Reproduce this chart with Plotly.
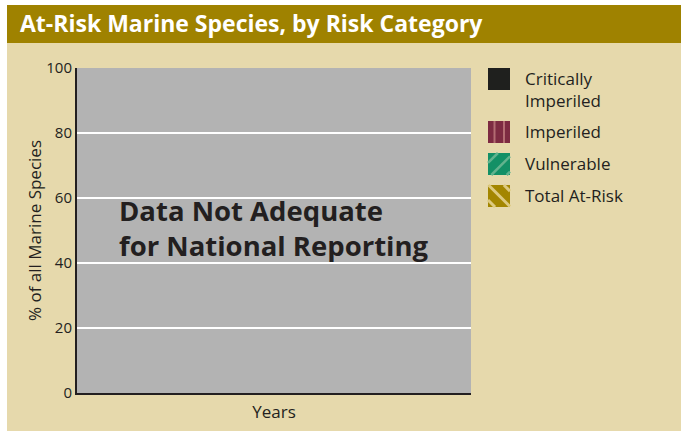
import plotly.graph_objects as go

# Risk categories (no national series values are available)
categories = ["Critically<br>Imperiled", "Imperiled", "Vulnerable", "Total At-Risk"]
years = [None]
critically_imperiled = [None]
imperiled = [None]
vulnerable = [None]
total_at_risk = [None]
series_values = [critically_imperiled, imperiled, vulnerable, total_at_risk]

y_ticks = [0, 20, 40, 60, 80, 100]
notice_lines = ["Data Not Adequate", "for National Reporting"]

# Fill styles per category: (base colour, stripe kind, stripe colour)
styles = [
    ("#1f201e", None, None),
    ("#7d2b42", "|", "#b36c72"),
    ("#139066", "/", "#62b38e"),
    ("#a38600", "\\", "#ddca80"),
]

TEXT = "#231f20"
BEIGE = "#e6d9ac"
OLIVE = "#9f8200"
FONT = "Open Sans"
LABEL = 17
TICK = 15

W, H = 681, 431
L, R, T, B = 77, 210, 68, 38
PW, PH = W - L - R, H - T - B


def px_x(px):
    return (px - L) / PW


def px_y(py):
    return (H - B - py) / PH


fig = go.Figure()
for name, vals, (base, kind, stripe) in zip(categories, series_values, styles):
    fig.add_trace(go.Bar(x=years, y=vals, name=name, marker_color=base,
                         showlegend=False))

shapes = [
    # white page edge on the left and top
    dict(type="rect", xref="paper", yref="paper", x0=px_x(0), x1=px_x(7),
         y0=px_y(H), y1=px_y(0), fillcolor="white", line_width=0, layer="below"),
    dict(type="rect", xref="paper", yref="paper", x0=px_x(0), x1=px_x(W),
         y0=px_y(5), y1=px_y(0), fillcolor="white", line_width=0, layer="below"),
    # header band
    dict(type="rect", xref="paper", yref="paper", x0=px_x(7), x1=px_x(W),
         y0=px_y(43), y1=px_y(5), fillcolor=OLIVE, line_width=0, layer="below"),
]
annotations = []

# --- key: patterned swatches with category names ---
KEY_X, SW = 488, 22
key_tops = [68, 121, 153, 185]
LINE_H = 21


def seg(x0, y0, x1, y1, color, width):
    return dict(type="line", xref="paper", yref="paper",
                x0=px_x(x0), y0=px_y(y0), x1=px_x(x1), y1=px_y(y1),
                line=dict(color=color, width=width))


for name, (base, kind, stripe), top in zip(categories, styles, key_tops):
    shapes.append(dict(type="rect", xref="paper", yref="paper",
                       x0=px_x(KEY_X), x1=px_x(KEY_X + SW),
                       y0=px_y(top + SW), y1=px_y(top),
                       fillcolor=base, line_width=0))
    if kind == "|":
        for off in (6.5, 16):
            shapes.append(seg(KEY_X + off, top, KEY_X + off, top + SW, stripe, 2))
    elif kind == "/":
        for c in (0.45, 1.15, 1.85):
            c *= SW
            xa, xb = max(0, c - SW), min(SW, c)
            shapes.append(seg(KEY_X + xa, top + c - xa, KEY_X + xb, top + c - xb,
                              stripe, 2.5))
    elif kind == "\\":
        for c in (0.72, 0.02, -0.68):
            c *= SW
            xa, xb = max(0, c), min(SW, SW + c)
            shapes.append(seg(KEY_X + xa, top + xa - c, KEY_X + xb, top + xb - c,
                              stripe, 3))
    n_lines = name.count("<br>") + 1
    annotations.append(dict(
        text=name, xref="paper", yref="paper",
        x=px_x(523), y=px_y(top + SW / 2 + (n_lines - 1) * LINE_H / 2 - 0.5),
        xanchor="left", yanchor="middle", align="left", showarrow=False,
        font=dict(family=FONT, size=LABEL, color=TEXT),
    ))

# "not adequate" notice, one annotation per line for tighter leading
baselines = [221, 255]
for line, base_y in zip(notice_lines, baselines):
    annotations.append(dict(
        text=f"<b>{line}</b>", xref="paper", yref="paper",
        x=px_x(117), y=px_y(base_y - 10), xanchor="left", yanchor="middle",
        align="left", showarrow=False,
        font=dict(family=FONT, size=27.5, color=TEXT)))

fig.update_layout(
    width=W, height=H,
    margin=dict(l=L, r=R, t=T, b=B, pad=0),
    paper_bgcolor=BEIGE,
    plot_bgcolor="#b3b3b3",
    font=dict(family=FONT, color=TEXT, size=LABEL),
    title=dict(
        text="<b>At-Risk Marine Species, by Risk Category</b>",
        x=20 / W, xanchor="left", xref="container",
        y=1 - 24 / H, yanchor="middle", yref="container",
        font=dict(family=FONT, size=23, color="white"),
    ),
    shapes=shapes,
    annotations=annotations,
    showlegend=False,
    bargap=0.2,
)

fig.update_xaxes(
    showticklabels=False, ticks="", showgrid=False, zeroline=False,
    showline=True, linecolor=TEXT, linewidth=2,
    title=dict(text="Years", standoff=12, font=dict(size=LABEL)),
)
fig.update_yaxes(
    range=[0, 100], tickvals=y_ticks, ticks="", showgrid=True,
    gridcolor="white", gridwidth=1.5, zeroline=False,
    showline=True, linecolor=TEXT, linewidth=2,
    tickfont=dict(size=TICK), ticklabelstandoff=0,
    title=dict(text="% of all Marine Species", standoff=0, font=dict(size=LABEL)),
)

fig.write_html("out.html")
